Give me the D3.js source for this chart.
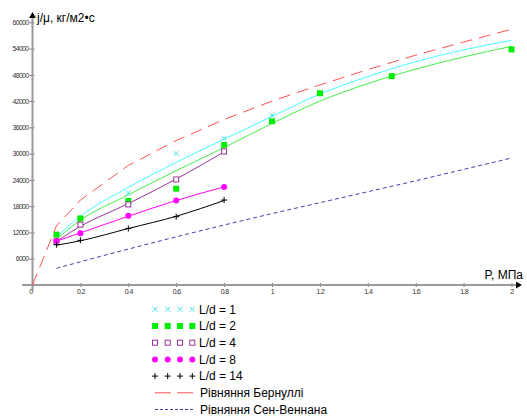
<!DOCTYPE html>
<html>
<head>
<meta charset="utf-8">
<script src="https://cdn.jsdelivr.net/npm/d3@7"></script>
<style>
  body { margin: 0; background: #fff; }
  svg { display: block; font-family: Arial, "Liberation Sans", sans-serif; }
</style>
</head>
<body>
<div id="chart"></div>
<script>
// measured points, P in MPa, j/mu in kg/(m2*s)
const obsP = [0.1, 0.2, 0.4, 0.6, 0.8]
const ld1P = [0.4, 0.6, 0.8, 1.0]
const ld1J = [21000, 30000, 33500, 38800]
const ld2P = [0.1, 0.2, 0.4, 0.6, 0.8, 1.0, 1.2, 1.5, 2.0]
const ld2J = [11500, 15200, 19200, 22000, 32000, 37400, 43800, 47700, 53800]
const ld4J = [9900, 13800, 18400, 24100, 30500]
const ld8J = [10100, 11800, 15800, 19300, 22400]
const ld14J = [9200, 10200, 12900, 15600, 19400]

// trend lines
const fitP = [0.1, 0.2, 0.4, 0.6, 0.8, 1.0, 1.2, 1.4, 1.6, 1.8, 2.0]
const fit1 = [11000, 15700, 22300, 28000, 33300, 38500, 43600, 47600, 51000, 53700, 55900]
const fit2 = [10500, 14800, 20600, 26100, 31400, 36900, 42000, 46000, 49300, 52100, 54500]
const fit4 = [10000, 13400, 18600, 24200, 30400]
const fit8 = [10000, 11900, 15700, 19300, 22400]
const fit14 = [9100, 10100, 12900, 15700, 19300]

// theory curves
const bernP = [0, 0.1, 0.2, 0.4, 0.6, 0.8, 1.0, 1.2, 1.4, 1.6, 1.8, 2.0]
const bernJ = [0, 13500, 19400, 27300, 33000, 37800, 42000, 45700, 49200, 52500, 55500, 58400]
const svenJ = [3800, 5300, 8200, 11000, 13700, 16300, 18800, 21300, 23800, 26400, 29000]

const xTicks = [0, 0.2, 0.4, 0.6, 0.8, 1, 1.2, 1.4, 1.6, 1.8, 2]
const yTicks = [6000, 12000, 18000, 24000, 30000, 36000, 42000, 48000, 54000, 60000]

const width = 527
const height = 417

const svg = d3.select("#chart").append("svg")
  .attr("width", width)
  .attr("height", height)

const x = d3.scaleLinear().domain([0, 2]).range([32.5, 511.5])
const y = d3.scaleLinear().domain([0, 60000]).range([285, 22.3])

const zip = (ps, js) => ps.map((p, i) => ({p: p, j: js[i]}))

// axes
const axisColor = "#9a9a9a"
const xAxis = svg.append("g")
  .attr("transform", "translate(0," + y(0) + ")")
  .call(d3.axisBottom(x).tickValues(xTicks).tickSize(3).tickSizeOuter(0)
    .tickFormat(d => String(d)))
xAxis.select(".domain").remove()
xAxis.selectAll(".tick line").attr("stroke", "#777").attr("y1", -2).attr("y2", 2)
xAxis.selectAll(".tick text")
  .attr("y", 4).attr("dy", "0.71em")
  .attr("fill", "#333").style("font-size", "7px").style("letter-spacing", "-0.6px")
xAxis.selectAll(".tick text").filter(d => d === 0).attr("dx", "-2px")

const yAxis = svg.append("g")
  .attr("transform", "translate(" + x(0) + ",0)")
  .call(d3.axisLeft(y).tickValues(yTicks).tickSize(3).tickSizeOuter(0)
    .tickFormat(d => String(d)))
yAxis.select(".domain").remove()
yAxis.selectAll(".tick line").attr("stroke", "#777").attr("x1", -3).attr("x2", 2)
yAxis.selectAll(".tick text")
  .attr("x", -4)
  .attr("fill", "#333").style("font-size", "7px").style("letter-spacing", "-0.7px")

svg.append("line")
  .attr("x1", 22).attr("x2", 517).attr("y1", y(0)).attr("y2", y(0))
  .attr("stroke", axisColor).attr("stroke-width", 2)
svg.append("line")
  .attr("x1", x(0)).attr("x2", x(0)).attr("y1", 291).attr("y2", 16)
  .attr("stroke", axisColor).attr("stroke-width", 2)
svg.append("path")
  .attr("d", d3.symbol(d3.symbolTriangle, 20)())
  .attr("transform", "translate(" + x(0) + ",16)")
  .attr("fill", "#000")
svg.append("path")
  .attr("d", d3.symbol(d3.symbolTriangle, 20)())
  .attr("transform", "translate(518," + y(0) + ") rotate(90)")
  .attr("fill", "#000")

svg.append("text").attr("x", 37).attr("y", 22)
  .style("font-size", "12px").text("j/μ, кг/м2•с")
svg.append("text").attr("x", 523).attr("y", 279).attr("text-anchor", "end")
  .style("font-size", "12px").text("P, МПа")

// lines
const lineGen = d3.line().x(d => x(d.p)).y(d => y(d.j))
const addLine = (pts, color, dash, curve) => {
  svg.append("path")
    .datum(pts)
    .attr("fill", "none")
    .attr("stroke", color)
    .attr("stroke-width", 1)
    .attr("stroke-dasharray", dash)
    .attr("d", lineGen.curve(curve || d3.curveMonotoneX)(pts))
}

addLine(zip(bernP, bernJ), "#ff5050", "12,7", d3.curveLinear)
addLine(zip(fitP, svenJ), "#4040b0", "4,3")
addLine(zip(obsP, fit14), "#000000", null)
addLine(zip(obsP, fit8), "#ff00ff", null)
addLine(zip(obsP, fit4), "#993399", null)
addLine(zip(fitP, fit2), "#44ee44", null)
addLine(zip(fitP, fit1), "#44ffff", null)

// markers
const drawMarker = (g, kind) => {
  if (kind === "x") {
    g.append("path").attr("d", "M-2.5,-2.5L2.5,2.5M-2.5,2.5L2.5,-2.5")
      .attr("stroke", "#44e0e8").attr("stroke-width", 1)
  } else if (kind === "sq") {
    g.append("rect").attr("x", -3).attr("y", -3).attr("width", 6).attr("height", 6)
      .attr("fill", "#00ee00")
  } else if (kind === "osq") {
    g.append("rect").attr("x", -2.5).attr("y", -2.5).attr("width", 5).attr("height", 5)
      .attr("fill", "#fff").attr("stroke", "#993399").attr("stroke-width", 1)
  } else if (kind === "dot") {
    g.append("circle").attr("r", 3).attr("fill", "#ff00ff")
  } else if (kind === "plus") {
    g.append("path").attr("d", "M-3,0L3,0M0,-3L0,3")
      .attr("stroke", "#000").attr("stroke-width", 1)
  }
}

const series = [
  {label: "L/d = 1", kind: "x", pts: zip(ld1P, ld1J)},
  {label: "L/d = 2", kind: "sq", pts: zip(ld2P, ld2J)},
  {label: "L/d = 4", kind: "osq", pts: zip(obsP, ld4J)},
  {label: "L/d = 8", kind: "dot", pts: zip(obsP, ld8J)},
  {label: "L/d = 14", kind: "plus", pts: zip(obsP, ld14J)}
]

series.forEach(s => {
  svg.append("g").selectAll("g")
    .data(s.pts)
    .join("g")
    .attr("transform", d => "translate(" + x(d.p) + "," + y(d.j) + ")")
    .each(function () { drawMarker(d3.select(this), s.kind) })
})

// legend
const legendY = d3.scaleLinear().domain([0, 6]).range([309.3, 409.5])
const markXs = [155, 167.7, 180, 192.3]
series.forEach((s, i) => {
  markXs.forEach(mx => {
    const g = svg.append("g").attr("transform", "translate(" + mx + "," + legendY(i) + ")")
    drawMarker(g, s.kind)
  })
  svg.append("text").attr("x", 199).attr("y", legendY(i)).attr("dy", "0.36em")
    .style("font-size", "12px").text(s.label)
})
svg.append("line").attr("x1", 155).attr("x2", 193)
  .attr("y1", legendY(5)).attr("y2", legendY(5))
  .attr("stroke", "#ff5050").attr("stroke-dasharray", "16,6")
svg.append("text").attr("x", 200).attr("y", legendY(5)).attr("dy", "0.36em")
  .style("font-size", "12px").text("Рівняння Бернуллі")
svg.append("line").attr("x1", 155).attr("x2", 193)
  .attr("y1", legendY(6)).attr("y2", legendY(6))
  .attr("stroke", "#4040b0").attr("stroke-dasharray", "3,2")
svg.append("text").attr("x", 200).attr("y", legendY(6)).attr("dy", "0.36em")
  .style("font-size", "12px").text("Рівняння Сен-Веннана")
</script>
</body>
</html>
